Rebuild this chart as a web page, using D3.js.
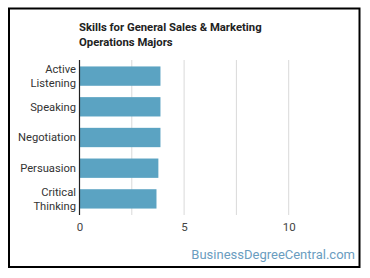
<!DOCTYPE html>
<html><head><meta charset="utf-8">
<script src="https://cdn.jsdelivr.net/npm/d3@7"></script>
<style>body{margin:0;background:#fff;font-family:Roboto,sans-serif;}</style>
</head><body><svg id="c" width="370" height="278"></svg>
<script>
const categories = ["Active Listening","Speaking","Negotiation","Persuasion","Critical Thinking"];
const values = [3.87, 3.87, 3.87, 3.77, 3.68];
const tickValues = [0, 5, 10];
const gridValues = [2.5, 5, 7.5, 10];
const titleLines = ["Skills for General Sales & Marketing","Operations Majors"];

const svg = d3.select("#c");
svg.append("rect").attr("x",9).attr("y",8.5).attr("width",350.5).attr("height",258.5)
  .attr("fill","#fff").attr("stroke","#000").attr("stroke-width",2);

const x = d3.scaleLinear().domain([0,12.5]).range([79.5,341]);
const y = d3.scaleBand().domain(categories).range([60,215]).paddingInner(0.37).paddingOuter(0.21);

svg.append("g").selectAll("line").data(gridValues).join("line")
  .attr("x1",d=>x(d)).attr("x2",d=>x(d)).attr("y1",60).attr("y2",215)
  .attr("stroke","#d9d9d9").attr("stroke-width",1);

svg.append("g").selectAll("rect").data(values).join("rect")
  .attr("x",x(0)).attr("y",(d,i)=>y(categories[i]))
  .attr("width",d=>x(d)-x(0)).attr("height",y.bandwidth())
  .attr("fill","#5ba3c2");

svg.append("line").attr("x1",x(0)).attr("x2",x(0)).attr("y1",60).attr("y2",215)
  .attr("stroke","#222").attr("stroke-width",1.2);

const xa = d3.axisBottom(x).tickValues(tickValues).tickSize(0).tickPadding(0);
const gx = svg.append("g").attr("transform","translate(0,220)").call(xa);
gx.select(".domain").remove();
gx.selectAll("text").attr("font-family","Roboto,sans-serif").attr("font-size",11.5).attr("fill","#444").attr("dy","0.71em").attr("y",3);

const lab = svg.append("g");
categories.forEach((c,i)=>{
  const words = c.split(" ");
  const cy = y(c)+y.bandwidth()/2;
  const t = lab.append("text").attr("x",76).attr("text-anchor","end")
    .attr("font-size",11.2).attr("fill","#333");
  const lh = 14.5;
  const start = cy - (words.length-1)*lh/2;
  words.forEach((w,j)=>{
    t.append("tspan").attr("x",76).attr("y",start+j*lh).attr("dy","0.35em").text(w);
  });
});

const tt = svg.append("text").attr("font-size",11.3).attr("font-weight","bold").attr("fill","#222");
titleLines.forEach((l,i)=>tt.append("tspan").attr("x",79).attr("y",31+i*15).text(l));

svg.append("text").attr("x",355).attr("y",259).attr("text-anchor","end")
  .attr("font-size",13).attr("fill","#6a9dbf").text("BusinessDegreeCentral.com");
</script></body></html>
